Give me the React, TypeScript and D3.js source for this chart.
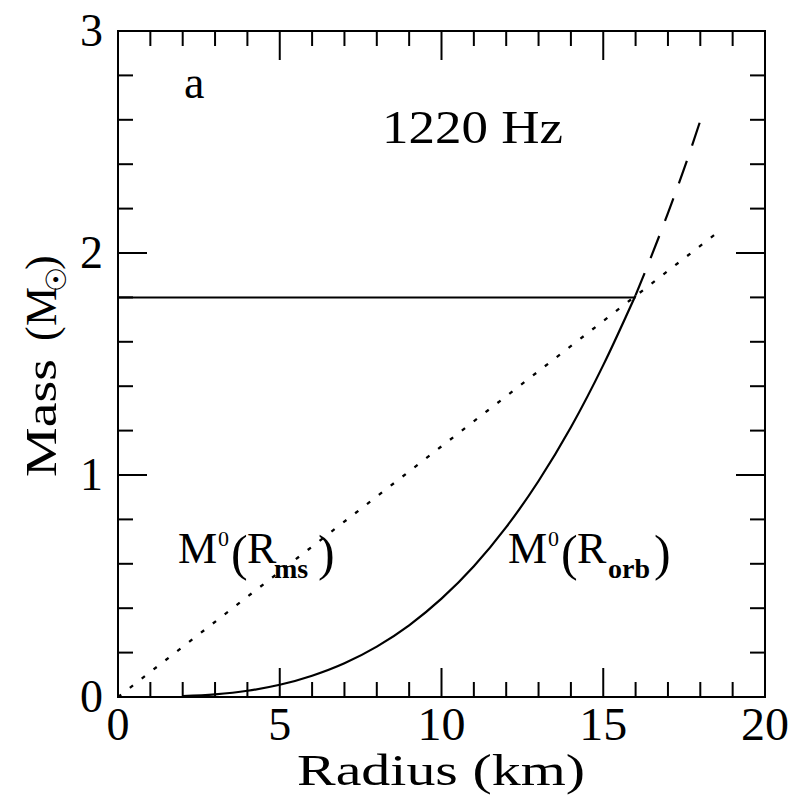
import React from 'react'
import * as d3 from "d3";

// values
const orbitRadius = [2, 3, 4, 5, 6, 7, 8, 9, 10, 11, 12, 13, 14, 15, 16];
const orbitMass = [0.004, 0.012, 0.028, 0.055, 0.096, 0.152, 0.227, 0.323, 0.443, 0.589, 0.765, 0.973, 1.215, 1.495, 1.81];
const dashedRadius = [16, 16.5, 17, 17.5, 18.1];
const dashedMass = [1.81, 1.99, 2.18, 2.38, 2.64];
const msRadius = [0, 18.6];
const msMass = [0, 2.1];
const limitRadius = [0, 16];
const limitMass = [1.8, 1.8];

const xTickLabels = [0, 5, 10, 15, 20];
const yTickLabels = [0, 1, 2, 3];

const W = 793, H = 795;
const margin = { top: 31, right: 28, bottom: 98, left: 118 };
const FONT = "'Liberation Serif', 'DejaVu Serif', serif";

const App = () => {
  const x = d3.scaleLinear().domain([0, 20]).range([margin.left, W - margin.right]);
  const y = d3.scaleLinear().domain([0, 3]).range([H - margin.bottom, margin.top]);

  const line = d3.line<[number, number]>().x(d => x(d[0])).y(d => y(d[1]));
  const smooth = d3.line<[number, number]>().x(d => x(d[0])).y(d => y(d[1])).curve(d3.curveMonotoneX);

  const zip = (a: number[], b: number[]) => a.map((v, i) => [v, b[i]] as [number, number]);

  const x0 = x(0), x1 = x(20), y0 = y(0), y1 = y(3);
  const xMinor = d3.range(0, 20.01, 1);
  const yMinor = d3.range(0, 3.01, 0.2);

  const tickLines: JSX.Element[] = [];
  xMinor.forEach((t, i) => {
    const major = Math.abs(t % 5) < 1e-6;
    const len = major ? 29 : 15;
    tickLines.push(<line key={"xb" + i} x1={x(t)} x2={x(t)} y1={y0} y2={y0 - len} />);
    tickLines.push(<line key={"xt" + i} x1={x(t)} x2={x(t)} y1={y1} y2={y1 + len} />);
  });
  yMinor.forEach((t, i) => {
    const major = Math.abs(t - Math.round(t)) < 1e-6;
    const len = major ? 29 : 15;
    tickLines.push(<line key={"yl" + i} x1={x0} x2={x0 + len} y1={y(t)} y2={y(t)} />);
    tickLines.push(<line key={"yr" + i} x1={x1} x2={x1 - len} y1={y(t)} y2={y(t)} />);
  });

  return (
    <svg width={W} height={H} style={{ position: 'absolute', left: 0, top: 0, background: '#fff' }}
      fontFamily={FONT} fill="#000">
      {/* curves */}
      <path d={line(zip(limitRadius, limitMass)) || ''} fill="none" stroke="#000" strokeWidth={2} />
      <path d={line(zip(msRadius, msMass)) || ''} fill="none" stroke="#000" strokeWidth={2.3} strokeDasharray="4,11" />
      <path d={smooth(zip(orbitRadius, orbitMass)) || ''} fill="none" stroke="#000" strokeWidth={2.2} />
      <path d={smooth(zip(dashedRadius, dashedMass)) || ''} fill="none" stroke="#000" strokeWidth={2.2} strokeDasharray="24,16" />

      {/* frame and ticks */}
      <g stroke="#000" strokeWidth={2}>
        <rect x={x0} y={y1} width={x1 - x0} height={y0 - y1} fill="none" />
        {tickLines}
      </g>

      {/* tick labels */}
      <g fontSize={46}>
        {xTickLabels.map(t => (
          <text key={"xl" + t} x={x(t)} y={y0 + 43} textAnchor="middle"
            textLength={t < 10 ? 23 : 48} lengthAdjust="spacingAndGlyphs">{t}</text>
        ))}
        {yTickLabels.map(t => (
          <text key={"yl" + t} x={x0 - 15} y={y(t) + 15} textAnchor="end">{t}</text>
        ))}
      </g>

      {/* axis titles */}
      <text x={441} y={785} textAnchor="middle" fontSize={44}
        textLength={288} lengthAdjust="spacingAndGlyphs">Radius (km)</text>
      <g transform={`translate(56,${(255 + 477) / 2}) rotate(-90)`}>
        <text x={-111} y={0} fontSize={44} textLength={118} lengthAdjust="spacingAndGlyphs">Mass</text>
        <text x={25} y={0} fontSize={44}>(</text>
        <text x={40} y={0} fontSize={44}>M</text>
        <text x={74} y={10} fontSize={28}>☉</text>
        <text x={96} y={0} fontSize={44}>)</text>
      </g>

      {/* annotations */}
      <text x={184} y={98} fontSize={46}>a</text>
      <text x={382} y={143} fontSize={46} textLength={181} lengthAdjust="spacingAndGlyphs">1220 Hz</text>

      <g>
        <text x={178} y={563} fontSize={44}>M</text>
        <text x={218} y={546} fontSize={22}>0</text>
        <text x={231} y={570} fontSize={50}>(</text>
        <text x={247} y={563} fontSize={44}>R</text>
        <text x={274} y={578} fontSize={28} fontWeight="bold">ms</text>
        <text x={318} y={570} fontSize={50}>)</text>
      </g>
      <g>
        <text x={508} y={563} fontSize={44}>M</text>
        <text x={548} y={546} fontSize={22}>0</text>
        <text x={561} y={570} fontSize={50}>(</text>
        <text x={577} y={563} fontSize={44}>R</text>
        <text x={608} y={578} fontSize={28} fontWeight="bold">orb</text>
        <text x={654} y={570} fontSize={50}>)</text>
      </g>
    </svg>
  );
};

export default App;
